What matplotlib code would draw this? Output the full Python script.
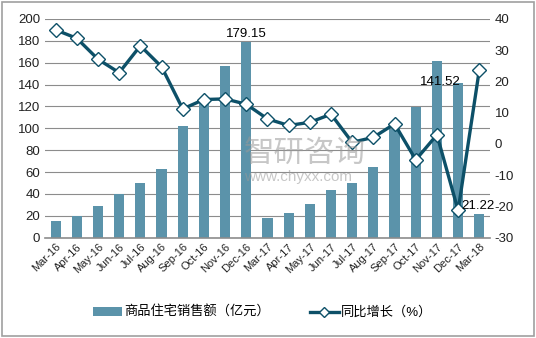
import matplotlib
matplotlib.use("Agg")
import matplotlib.pyplot as plt
import numpy as np

plt.rcParams['font.family'] = ['Liberation Sans', 'Noto Sans CJK SC', 'DejaVu Sans']
plt.rcParams['axes.unicode_minus'] = False

months = ["Mar-16", "Apr-16", "May-16", "Jun-16", "Jul-16", "Aug-16", "Sep-16",
          "Oct-16", "Nov-16", "Dec-16", "Mar-17", "Apr-17", "May-17", "Jun-17",
          "Jul-17", "Aug-17", "Sep-17", "Oct-17", "Nov-17", "Dec-17", "Mar-18"]
sales = [15.5, 20.1, 28.7, 40.0, 50.0, 62.8, 102.0, 123.0, 156.8, 179.15,
         17.7, 22.9, 30.8, 43.9, 50.0, 65.0, 99.0, 119.9, 161.7, 141.52, 21.22]
growth = [36.5, 33.8, 27.1, 22.8, 31.4, 24.7, 11.2, 14.2, 14.4, 12.7,
          8.0, 5.9, 6.9, 9.5, 0.5, 2.1, 6.4, -5.1, 2.9, -21.3, 23.7]

bar_color = "#5b93aa"
line_color = "#0d5068"

fig = plt.figure(figsize=(5.36, 3.38), dpi=100)
ax1 = fig.add_axes([0.084, 0.297, 0.830, 0.647])
ax2 = ax1.twinx()

x = np.arange(len(months))
bars = ax1.bar(x, sales, width=0.48, color=bar_color, zorder=2,
               label="商品住宅销售额（亿元）")
ax1.set_ylim(0, 200)
ax1.set_yticks(range(0, 201, 20))
ax1.set_xlim(-0.5, len(months) - 0.5)
ax1.set_xticks(x)
ax1.set_xticklabels(months, rotation=45, ha="right", rotation_mode="anchor", fontsize=8)
ax1.grid(axis="y", color="#8c8c8c", linewidth=0.8, zorder=0)
ax1.set_axisbelow(True)

line, = ax2.plot(x, growth, color=line_color, linewidth=2.4, marker="D", markersize=7,
                 markerfacecolor="white", markeredgecolor=line_color, markeredgewidth=1,
                 zorder=5, label="同比增长（%）")
ax2.set_ylim(-30, 40)
ax2.set_yticks(range(-30, 41, 10))

for a in (ax1, ax2):
    for s in a.spines.values():
        s.set_visible(False)
    a.tick_params(length=0, labelsize=9.5, colors="#222222")
ax1.tick_params(axis="x", labelsize=8, pad=3)
ax1.spines["bottom"].set_visible(True)
ax1.spines["bottom"].set_color("#8c8c8c")
ax1.spines["bottom"].set_linewidth(1.2)

# value labels
ax1.text(x[9], sales[9] + 2, "179.15", ha="center", va="bottom", fontsize=9.5, zorder=6)
ax1.text(x[19] + 0.1, sales[19] + 1, "141.52", ha="right", va="center", fontsize=9.5, zorder=6)
ax2.text(x[20] - 0.05, -19.8, "21.22", ha="center", va="center", fontsize=9.5, zorder=6)

# watermark
fig.text(0.455, 0.545, "智研咨询", fontsize=22, color="#999999", alpha=0.55,
         ha="left", va="center")
fig.text(0.455, 0.475, "www.chyxx.com", fontsize=11, color="#999999", alpha=0.55,
         ha="left", va="center")

fig.legend(handles=[bars, line], loc="center", bbox_to_anchor=(0.49, 0.075), ncol=2,
           frameon=False, fontsize=9.5, columnspacing=3.0, handlelength=2.2,
           handletextpad=0.2, markerscale=0.75)

fig.patches.append(plt.Rectangle((0.004, 0.006), 0.992, 0.988, transform=fig.transFigure,
                                 fill=False, edgecolor="#a0a0a0", linewidth=1.2))

fig.savefig("out.png", dpi=100)
